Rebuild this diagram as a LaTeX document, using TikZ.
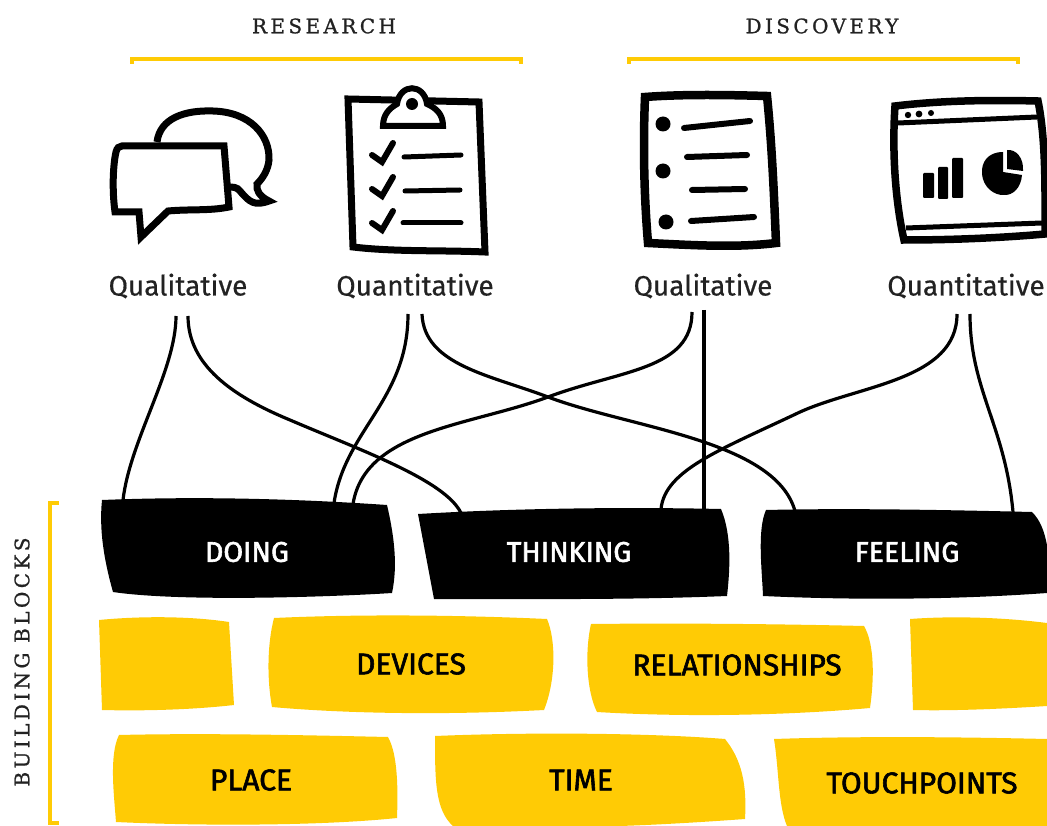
\documentclass[tikz,border=0pt]{standalone}
\usepackage{fontspec}
\setmainfont{Fira Sans}
\newfontfamily\slabfont[LetterSpace=17, FakeBold=1]{DejaVu Serif}
\newfontfamily\kindfont[FakeBold=0.5]{Fira Sans}
\newfontfamily\blockfont[FakeBold=2]{Fira Sans}
\definecolor{brickyellow}{HTML}{FFCB05}
\definecolor{inkgray}{HTML}{222222}
\tikzset{
    wire/.style={line width=3.2pt, black},
    bracket/.style={line width=4pt, brickyellow},
    heading/.style={font=\slabfont\fontsize{20}{20}\selectfont, text=inkgray, inner sep=0pt},
    kind/.style={font=\kindfont\fontsize{28}{28}\selectfont, text=inkgray, inner sep=0pt},
    whitetext/.style={font=\blockfont\fontsize{28.5}{28.5}\selectfont, text=white, inner sep=0pt},
    blacktext/.style={font=\blockfont\fontsize{30}{30}\selectfont, text=black, inner sep=0pt},
    outline/.style={line width=7pt, line join=miter, black, fill=white},
    stroke/.style={line width=6pt, line cap=round, black},
    blackbrick/.style={fill=black},
    yellowbrick/.style={fill=brickyellow}
}

\begin{document}
\begin{tikzpicture}[x=1pt, y=-1pt]
    \useasboundingbox (0, 0) rectangle (1047, 826);

    % headings and brackets
    \node[heading] (research) at (324, 26) {RESEARCH};
    \node[heading] (discovery) at (822, 26) {DISCOVERY};
    \node[heading, rotate=90] (buildingblocks) at (22, 662) {BUILDING BLOCKS};
    \draw[bracket] (132, 64) -- (132, 59) -- (521, 59) -- (521, 64);
    \draw[bracket] (629, 64) -- (629, 59) -- (1018, 59) -- (1018, 64);
    \draw[bracket] (59, 503) -- (50, 503) -- (50, 823) -- (59, 823);

    % speech bubbles
    \draw[outline] (157, 142) .. controls (160, 118) and (185, 110) .. (213, 111)
        .. controls (250, 112) and (270, 135) .. (269, 160)
        .. controls (268, 170) and (263, 178) .. (257, 184)
        .. controls (256, 190) and (259, 196) .. (269, 201)
        .. controls (255, 206) and (250, 203) .. (240, 191)
        .. controls (237, 187) and (233, 187) .. (228, 187);
    \draw[outline] (122, 146) -- (224, 146) -- (229, 207)
        .. controls (210, 211) and (190, 209) .. (168, 211) -- (141, 237) -- (139, 212) -- (115, 212)
        .. controls (112, 190) and (113, 165) .. (116, 152) .. controls (117, 148) and (119, 146) .. (122, 146) -- cycle;

    % clipboard
    \draw[outline] (348, 99) -- (479, 102) -- (485, 252) .. controls (440, 250) and (395, 252) .. (353, 247) -- cycle;
    \draw[outline, line width=6pt] (383, 126) .. controls (383, 114) and (390, 108) .. (397, 104)
        .. controls (400, 83) and (424, 83) .. (427, 104)
        .. controls (436, 108) and (443, 114) .. (443, 126) -- cycle;
    \fill (412, 104) circle (6);
    \foreach \yoff in {0, 34, 68} {
        \draw[stroke, line join=miter] (372, 155 + \yoff) -- (382, 162 + \yoff) -- (393, 143 + \yoff);
    }
    \foreach \xone/\yone/\xtwo/\ytwo in {404/157/461/155, 405/191/460/190, 403/223/461/223} {
        \draw[stroke, line width=5pt] (\xone, \yone) -- (\xtwo, \ytwo);
    }

    % bullet list
    \draw[outline, line width=8.5pt] (645, 97) .. controls (685, 94) and (730, 95) .. (767, 96)
        .. controls (772, 145) and (774, 195) .. (776, 243)
        .. controls (735, 248) and (690, 245) .. (648, 243)
        .. controls (644, 195) and (643, 145) .. (645, 97) -- cycle;
    \foreach \xpos/\ypos in {663/124, 663/171, 666/222} {
        \fill (\xpos, \ypos) circle (7.5);
    }
    \foreach \xone/\yone/\xtwo/\ytwo in {684/128/750/121, 687/157/747/155, 692/190/745/189, 691/221/754/217} {
        \draw[stroke] (\xone, \yone) -- (\xtwo, \ytwo);
    }

    % browser window
    \draw[outline, line width=7.5pt] (895, 106) .. controls (945, 100) and (995, 100) .. (1038, 101)
        .. controls (1046, 140) and (1045, 190) .. (1045, 234)
        .. controls (1000, 238) and (950, 240) .. (904, 240)
        .. controls (895, 200) and (892, 150) .. (895, 106) -- cycle;
    \draw[line width=5pt] (898, 123) -- (1037, 117);
    \draw[line width=5pt] (906, 228) -- (1042, 223);
    \foreach \xpos/\ypos/\dotsize in {908/115/3.2, 919/114/3.4, 931/113/3} {
        \fill (\xpos, \ypos) circle (\dotsize);
    }
    \fill[rounded corners=1pt] (923, 173) rectangle (934, 198);
    \fill[rounded corners=1pt] (938, 167) rectangle (948, 199);
    \fill[rounded corners=1pt] (952, 158) rectangle (963, 198);
    \fill (1003, 152) .. controls (988, 152) and (981, 162) .. (982, 174)
        .. controls (983, 187) and (994, 196) .. (1005, 195)
        .. controls (1013, 195) and (1021, 188) .. (1022, 175) -- (1003, 172) -- cycle;
    \fill (1007, 150) .. controls (1016, 149) and (1024, 158) .. (1023, 171) -- (1007, 169) -- cycle;

    % research and discovery labels
    \foreach \nodename/\xpos/\kindname in {qualres/178/Qualitative, quantres/415/Quantitative, qualdis/703/Qualitative, quantdis/966/Quantitative} {
        \node[kind] (\nodename) at (\xpos, 286) {\kindname};
    }

    % bricks of the wall
    \path[blackbrick] (102, 500) .. controls (200, 496) and (300, 499) .. (387, 505)
        .. controls (394, 535) and (398, 565) .. (392, 593)
        .. controls (330, 597) and (180, 602) .. (113, 592)
        .. controls (104, 560) and (99, 530) .. (102, 500) -- cycle;
    \path[blackbrick] (418, 514) .. controls (520, 508) and (630, 507) .. (721, 509)
        .. controls (732, 535) and (730, 570) .. (727, 596)
        .. controls (630, 600) and (530, 599) .. (434, 599) -- cycle;
    \path[blackbrick] (766, 510) .. controls (850, 508) and (950, 510) .. (1032, 512)
        .. controls (1040, 520) and (1044, 530) .. (1047, 545) -- (1047, 593)
        .. controls (950, 600) and (850, 600) .. (763, 596)
        .. controls (762, 570) and (757, 530) .. (766, 510) -- cycle;

    \path[yellowbrick] (99, 620) .. controls (140, 616) and (190, 616) .. (229, 622) -- (234, 705)
        .. controls (190, 710) and (140, 711) .. (102, 710) -- cycle;
    \path[yellowbrick] (274, 618) .. controls (360, 614) and (460, 615) .. (547, 619)
        .. controls (556, 640) and (556, 680) .. (544, 710)
        .. controls (450, 715) and (350, 714) .. (272, 707)
        .. controls (267, 680) and (267, 645) .. (274, 618) -- cycle;
    \path[yellowbrick] (591, 624) .. controls (680, 623) and (780, 624) .. (864, 626)
        .. controls (875, 645) and (874, 680) .. (870, 708)
        .. controls (780, 716) and (680, 717) .. (597, 712)
        .. controls (586, 690) and (585, 650) .. (591, 624) -- cycle;
    \path[yellowbrick] (910, 619) .. controls (950, 616) and (1000, 617) .. (1047, 623) -- (1047, 706)
        .. controls (1000, 709) and (950, 711) .. (913, 710) -- cycle;

    \path[yellowbrick] (119, 735) .. controls (200, 733) and (300, 735) .. (388, 737)
        .. controls (398, 755) and (398, 790) .. (397, 818)
        .. controls (320, 826) and (200, 826) .. (116, 822)
        .. controls (114, 795) and (109, 755) .. (119, 735) -- cycle;
    \path[yellowbrick] (435, 736) .. controls (530, 732) and (650, 733) .. (725, 739)
        .. controls (742, 760) and (747, 785) .. (745, 819)
        .. controls (690, 823) and (650, 825) .. (620, 826) -- (453, 826)
        .. controls (435, 810) and (435, 780) .. (435, 736) -- cycle;
    \path[yellowbrick] (774, 739) .. controls (860, 736) and (960, 737) .. (1047, 739) -- (1047, 826) -- (787, 826)
        .. controls (778, 805) and (779, 770) .. (774, 739) -- cycle;

    % brick labels
    \foreach \nodename/\xpos/\ypos/\blockname in {doing/247/552/DOING, thinking/569/552/THINKING, feeling/907/552/FEELING} {
        \node[whitetext] (\nodename) at (\xpos, \ypos) {\blockname};
    }
    \foreach \nodename/\xpos/\ypos/\blockname in {devices/411/664/DEVICES, relationships/737/665/RELATIONSHIPS, place/251/780/PLACE, time/581/780/TIME, touchpoints/922/783/TOUCHPOINTS} {
        \node[blacktext] (\nodename) at (\xpos, \ypos) {\blockname};
    }

    % ends of the connectors
    \coordinate (qualresA) at (176, 316);
    \coordinate (qualresB) at (188, 316);
    \coordinate (quantresA) at (408, 314);
    \coordinate (quantresB) at (422, 314);
    \coordinate (qualdisA) at (692, 312);
    \coordinate (qualdisB) at (704, 310);
    \coordinate (quantdisA) at (957, 314);
    \coordinate (quantdisB) at (970, 314);
    \coordinate (doingA) at (123, 500);
    \coordinate (doingB) at (334, 503);
    \coordinate (doingC) at (353, 504);
    \coordinate (thinkingA) at (461, 513);
    \coordinate (thinkingB) at (661, 509);
    \coordinate (thinkingC) at (704, 509);
    \coordinate (feelingA) at (795, 511);
    \coordinate (feelingB) at (1013, 512);

    \draw[wire] (qualresA) .. controls (176, 370) and (130, 440) .. (doingA);
    \draw[wire] (qualresB) .. controls (188, 365) and (232, 396) .. (290, 420) .. controls (360, 450) and (445, 480) .. (thinkingA);
    \draw[wire] (quantresA) .. controls (408, 400) and (345, 430) .. (doingB);
    \draw[wire] (quantresB) .. controls (424, 365) and (490, 375) .. (548, 397) .. controls (630, 428) and (775, 440) .. (feelingA);
    \draw[wire] (qualdisA) .. controls (692, 370) and (620, 370) .. (548, 397) .. controls (470, 426) and (365, 430) .. (doingC);
    \draw[wire, line width=3.6pt] (qualdisB) -- (thinkingC);
    \draw[wire] (quantdisA) .. controls (957, 380) and (860, 385) .. (800, 412) .. controls (720, 450) and (665, 470) .. (thinkingB);
    \draw[wire] (quantdisB) .. controls (970, 390) and (1005, 425) .. (feelingB);
\end{tikzpicture}
\end{document}
